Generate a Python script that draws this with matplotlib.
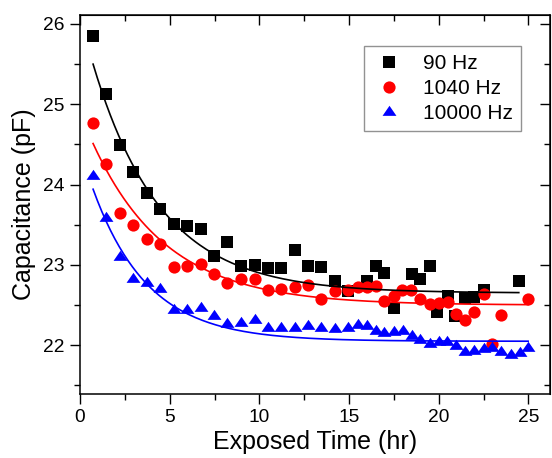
import numpy as np
import matplotlib
matplotlib.use('Agg')
import matplotlib.pyplot as plt

plt.rcParams['font.family'] = ['Liberation Sans', 'DejaVu Sans']

# Data (Exposed time in hr, capacitance in pF)
t_90 = [0.73, 1.47, 2.23, 2.98, 3.74, 4.48, 5.23, 5.99, 6.73, 7.49, 8.22,
        9.0, 9.73, 10.47, 11.22, 11.96, 12.72, 13.45, 14.23, 14.96, 15.98,
        16.5, 16.96, 17.48, 18.49, 18.98, 19.49, 19.92, 20.52, 20.92, 21.45,
        21.99, 22.5, 24.46]
c_90 = [25.85, 25.13, 24.49, 24.16, 23.89, 23.70, 23.51, 23.48, 23.45, 23.11,
        23.29, 22.99, 23.0, 22.96, 22.96, 23.19, 22.99, 22.98, 22.80, 22.68,
        22.80, 22.99, 22.90, 22.46, 22.89, 22.82, 22.99, 22.42, 22.61, 22.37,
        22.59, 22.60, 22.69, 22.80]

t_1040 = [0.73, 1.47, 2.23, 2.98, 3.74, 4.48, 5.23, 5.99, 6.73, 7.49, 8.22,
          9.0, 9.73, 10.47, 11.22, 11.96, 12.72, 13.45, 14.23, 14.96, 15.48,
          15.98, 16.5, 16.96, 17.48, 17.97, 18.47, 18.98, 19.49, 20.0, 20.5,
          20.98, 21.47, 21.99, 22.5, 22.97, 23.48, 24.98]
c_1040 = [24.77, 24.25, 23.64, 23.50, 23.32, 23.26, 22.98, 22.99, 23.01, 22.89,
          22.78, 22.83, 22.83, 22.69, 22.70, 22.72, 22.75, 22.58, 22.67, 22.69,
          22.73, 22.72, 22.74, 22.55, 22.61, 22.69, 22.69, 22.57, 22.51, 22.53,
          22.54, 22.39, 22.32, 22.41, 22.64, 22.01, 22.38, 22.57]

t_10000 = [0.73, 1.47, 2.23, 2.98, 3.74, 4.48, 5.23, 5.99, 6.73, 7.49, 8.22,
           9.0, 9.73, 10.47, 11.22, 11.96, 12.72, 13.45, 14.23, 14.96, 15.48,
           15.98, 16.5, 16.96, 17.48, 17.99, 18.49, 18.97, 19.49, 19.99, 20.46,
           20.96, 21.47, 21.99, 22.51, 22.97, 23.48, 24.0, 24.5, 24.98]
c_10000 = [24.11, 23.59, 23.10, 22.82, 22.78, 22.70, 22.44, 22.44, 22.46, 22.37,
           22.27, 22.28, 22.31, 22.21, 22.21, 22.22, 22.24, 22.21, 22.20, 22.21,
           22.25, 22.24, 22.18, 22.15, 22.17, 22.18, 22.12, 22.06, 22.01, 22.04,
           22.04, 21.99, 21.92, 21.93, 21.95, 21.96, 21.92, 21.88, 21.90, 21.96]

# exponential decay fits y = y0 + A*exp(-t/tau), parameters
fit_y0 = [22.65, 22.50, 22.05]
fit_A = [3.45, 2.40, 2.40]
fit_tau = [3.81, 4.12, 3.07]

labels = ['90 Hz', '1040 Hz', '10000 Hz']
colors = ['black', 'red', 'blue']

# Origin-style wide triangle, centred on its centroid
tri = [(-1, -0.483), (1, -0.483), (0, 0.967), (-1, -0.483)]

fig = plt.figure(figsize=(5.52, 4.58), dpi=100)
ax = fig.add_axes([80 / 552, 1 - 393.5 / 458, 470 / 552, 378.5 / 458])

series = [(t_90, c_90, 's', 8), (t_1040, c_1040, 'o', 8.8), (t_10000, c_10000, tri, 10)]
for (x, y, m, ms), lab, col in zip(series, labels, colors):
    ax.plot(x, y, linestyle='none', marker=m, markersize=ms, color=col,
            markeredgewidth=0, label=lab)
for (x, y, m, ms), col, y0, A, tau in zip(series, colors, fit_y0, fit_A, fit_tau):
    xf = np.linspace(min(x), max(x), 200)
    ax.plot(xf, y0 + A * np.exp(-xf / tau), color=col, linewidth=1.2)

ax.set_xlim(0, 26.2)
ax.set_ylim(21.4, 26.11)
ax.set_xticks([0, 5, 10, 15, 20, 25])
ax.set_xticks(np.arange(2.5, 26, 5), minor=True)
ax.set_yticks([22, 23, 24, 25, 26])
ax.set_yticks([21.5, 22.5, 23.5, 24.5, 25.5], minor=True)

ax.tick_params(which='both', direction='out', labelsize=13.8, width=1)
ax.tick_params(which='major', length=7, pad=4)
ax.tick_params(which='minor', length=4)
for s in ax.spines.values():
    s.set_linewidth(1.1)

# inward mirrored ticks on top and right
top = ax.secondary_xaxis('top')
top.set_xticks([0, 5, 10, 15, 20, 25])
top.set_xticks(np.arange(2.5, 26, 5), minor=True)
top.tick_params(which='both', direction='in', labeltop=False, width=1)
top.tick_params(which='major', length=7)
top.tick_params(which='minor', length=4)
right = ax.secondary_yaxis('right')
right.set_yticks([22, 23, 24, 25, 26])
right.set_yticks([21.5, 22.5, 23.5, 24.5, 25.5], minor=True)
right.tick_params(which='both', direction='in', labelright=False, width=1)
right.tick_params(which='major', length=7)
right.tick_params(which='minor', length=4)

ax.set_xlabel('Exposed Time (hr)', fontsize=18, labelpad=3)
ax.set_ylabel('Capacitance (pF)', fontsize=18, labelpad=5)

leg = ax.legend(loc='upper left', bbox_to_anchor=((364 - 80) / 470, (393.5 - 46) / 378.5),
                fontsize=15, frameon=True, fancybox=False, handletextpad=0.84,
                borderpad=0.4, labelspacing=0.28, handlelength=1.6, borderaxespad=0)
leg.get_frame().set_edgecolor('#777777')
leg.get_frame().set_linewidth(1)

plt.savefig('out.png', dpi=100)
